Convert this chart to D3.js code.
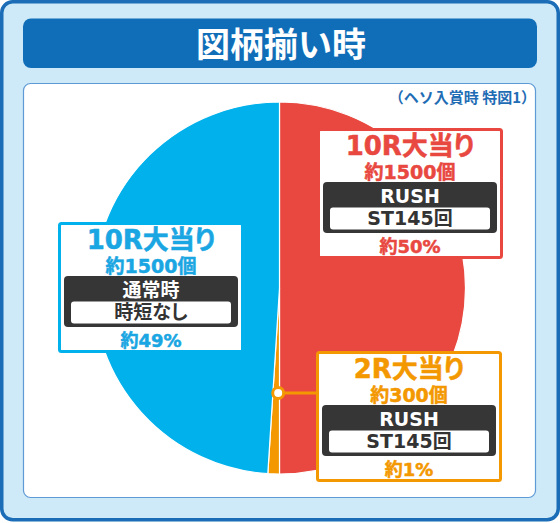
<!DOCTYPE html>
<html>
<head>
<meta charset="utf-8">
<script src="https://cdn.jsdelivr.net/npm/d3@7"></script>
<style>
  html, body { margin: 0; padding: 0; background: #ffffff; }
  svg { display: block; }
  text { font-family: "DejaVu Sans", "Noto Sans CJK JP", sans-serif; font-weight: bold; font-feature-settings: "palt"; }
  .heavy { paint-order: stroke; stroke-width: 0.5px; stroke-linejoin: round; }
</style>
</head>
<body>
<div id="chart"></div>
<script>
const width = 560;
const height = 523;

// data
const titleText = "図柄揃い時";
const noteText = "（ヘソ入賞時 特図1）";
const categories = ["10R大当り", "2R大当り", "10R大当り"];
const shares = [50, 1, 49];
const payouts = ["約1500個", "約300個", "約1500個"];
const modes = ["RUSH", "RUSH", "通常時"];
const modeDetails = ["ST145回", "ST145回", "時短なし"];
const shareLabels = ["約50%", "約1%", "約49%"];

// styles
const sliceColors = ["#e84840", "#f39800", "#00b1ec"];
const textColors = ["#e84840", "#f39800", "#1aa6e2"];
// label box top-left corners (x, y)
const boxPos = [[317, 128], [316, 351], [58, 222]];
const boxW = 186, boxH = 131;

const cx = 279.5, cy = 288, radius = 186;

var svg = d3.select("#chart")
            .append("svg")
            .attr("width", width)
            .attr("height", height);

//Outer frame
svg.append("rect")
   .attr("x", 1.75).attr("y", 1.75)
   .attr("width", width - 3.5).attr("height", height - 5)
   .attr("rx", 11)
   .style("fill", "#cee9f7")
   .style("stroke", "#1a6db6")
   .style("stroke-width", 3.5);

//Header
svg.append("rect")
   .attr("x", 23).attr("y", 18.5)
   .attr("width", 514).attr("height", 49.5)
   .attr("rx", 8)
   .style("fill", "#106eb8");

svg.append("text")
   .attr("x", 281).attr("y", 57)
   .attr("text-anchor", "middle")
   .style("font-family", "'Noto Sans CJK JP', sans-serif")
   .style("font-feature-settings", "normal")
   .style("font-size", "34px")
   .style("fill", "#ffffff")
   .text(titleText);

//White panel
svg.append("rect")
   .attr("x", 23.5).attr("y", 83.5)
   .attr("width", 512).attr("height", 414)
   .attr("rx", 7)
   .style("fill", "#ffffff")
   .style("stroke", "#5e9ad6")
   .style("stroke-width", 1.2);

svg.append("text")
   .attr("x", 536).attr("y", 102.5)
   .attr("text-anchor", "end")
   .style("font-family", "'Noto Sans CJK JP', sans-serif")
   .style("font-feature-settings", "normal")
   .style("font-size", "15px")
   .style("fill", "#1f6db5")
   .text(noteText);

//Pie
const pie = d3.pie().sort(null).value(d => d);
const arc = d3.arc().innerRadius(0).outerRadius(radius);
const arcs = pie(shares);

var pieG = svg.append("g")
              .attr("transform", "translate(" + cx + "," + cy + ")");

pieG.selectAll("path")
    .data(arcs)
    .enter()
    .append("path")
    .attr("d", arc)
    .style("fill", (d, i) => sliceColors[i])
    .style("stroke", "#ffffff")
    .style("stroke-width", 1.2);

//Label boxes
categories.forEach((cat, i) => {
  const bx = boxPos[i][0], by = boxPos[i][1];
  const mid = bx + boxW / 2;
  var g = svg.append("g");

  g.append("rect")
   .attr("x", bx + 1.5).attr("y", by + 1.5)
   .attr("width", boxW - 3).attr("height", boxH - 3)
   .attr("rx", 2)
   .style("fill", "#ffffff")
   .style("stroke", sliceColors[i])
   .style("stroke-width", 3);

  g.append("text")
   .attr("class", "heavy")
   .attr("x", mid).attr("y", by + 27)
   .attr("text-anchor", "middle")
   .style("font-size", "26px")
   .style("fill", textColors[i])
   .style("stroke", textColors[i])
   .text(cat);

  g.append("text")
   .attr("class", "heavy")
   .attr("x", mid).attr("y", by + 50.5)
   .attr("text-anchor", "middle")
   .style("font-size", "19px")
   .style("fill", textColors[i])
   .style("stroke", textColors[i])
   .text(payouts[i]);

  g.append("rect")
   .attr("x", bx + 6).attr("y", by + 54)
   .attr("width", boxW - 12).attr("height", 51)
   .attr("rx", 4)
   .style("fill", "#363636");

  g.append("text")
   .attr("x", mid).attr("y", by + 74.5)
   .attr("text-anchor", "middle")
   .style("font-size", "19px")
   .style("fill", "#ffffff")
   .text(modes[i]);

  g.append("rect")
   .attr("x", bx + 13).attr("y", by + 79.5)
   .attr("width", boxW - 26).attr("height", 22)
   .attr("rx", 3)
   .style("fill", "#ffffff");

  g.append("text")
   .attr("x", mid).attr("y", by + 97)
   .attr("text-anchor", "middle")
   .style("font-size", "19px")
   .style("fill", "#333333")
   .text(modeDetails[i]);

  g.append("text")
   .attr("class", "heavy")
   .attr("x", mid).attr("y", by + 124.5)
   .attr("text-anchor", "middle")
   .style("font-size", "18px")
   .style("fill", textColors[i])
   .style("stroke", textColors[i])
   .text(shareLabels[i]);
});

//Connector for the small slice
const small = arcs[1];
const dotAngle = small.startAngle + (small.endAngle - small.startAngle) * 0.2;
const dotR = 105;
const dotX = cx + dotR * Math.sin(dotAngle);
const dotY = cy - dotR * Math.cos(dotAngle);

svg.append("line")
   .attr("x1", dotX).attr("y1", dotY)
   .attr("x2", boxPos[1][0] + 1.5).attr("y2", dotY)
   .style("stroke", sliceColors[1])
   .style("stroke-width", 3);

svg.append("circle")
   .attr("cx", dotX).attr("cy", dotY)
   .attr("r", 5.5)
   .style("fill", "#ffffff")
   .style("stroke", sliceColors[1])
   .style("stroke-width", 3);
</script>
</body>
</html>
